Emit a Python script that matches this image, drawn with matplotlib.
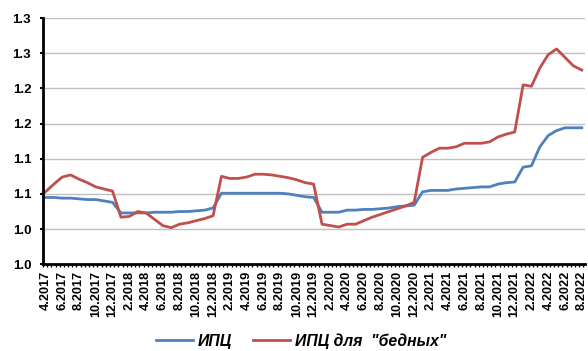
import numpy as np
import matplotlib
matplotlib.use('Agg')
import matplotlib.pyplot as plt

plt.rcParams['font.family'] = ['Liberation Sans', 'DejaVu Sans']

# monthly series, 4.2017 .. 8.2022
months = ['%d.%d' % (m, y) for y in range(2017, 2023) for m in range(1, 13)]
months = months[3:3 + 65]

cpi = [1.045, 1.045, 1.044, 1.044, 1.043, 1.042, 1.042, 1.040, 1.038,
       1.023, 1.023, 1.023, 1.023, 1.024, 1.024, 1.024, 1.025, 1.025, 1.026, 1.027, 1.030,
       1.051, 1.051, 1.051, 1.051, 1.051, 1.051, 1.051, 1.051, 1.050, 1.048, 1.046, 1.045,
       1.024, 1.024, 1.024, 1.027, 1.027, 1.028, 1.028, 1.029, 1.030, 1.032, 1.033, 1.034,
       1.053, 1.055, 1.055, 1.055, 1.057, 1.058, 1.059, 1.060, 1.060, 1.064, 1.066, 1.067,
       1.088, 1.090, 1.117, 1.133, 1.140, 1.144, 1.144, 1.144]

cpi_poor = [1.053, 1.064, 1.074, 1.077, 1.071, 1.066, 1.060, 1.057, 1.054,
            1.017, 1.018, 1.025, 1.023, 1.014, 1.005, 1.002, 1.007, 1.009, 1.012, 1.015, 1.019,
            1.075, 1.072, 1.072, 1.074, 1.078, 1.078, 1.077, 1.075, 1.073, 1.070, 1.066, 1.064,
            1.007, 1.005, 1.003, 1.007, 1.007, 1.012, 1.017, 1.021, 1.025, 1.029, 1.033, 1.038,
            1.102, 1.109, 1.115, 1.115, 1.117, 1.122, 1.122, 1.122, 1.124, 1.131, 1.135, 1.138,
            1.205, 1.203, 1.229, 1.248, 1.256, 1.244, 1.232, 1.226]

y_ticks = [0.95, 1.00, 1.05, 1.10, 1.15, 1.20, 1.25, 1.30]
y_labels = ['1.0', '1.0', '1.1', '1.1', '1.2', '1.2', '1.3', '1.3']

fig = plt.figure(figsize=(5.88, 3.51), dpi=100)
ax = fig.add_axes([0.0731, 0.247, 0.922, 0.7017])

x = np.arange(len(months))
ax.plot(x, cpi, color='#4F81BD', lw=2.0, label='ИПЦ', solid_joinstyle='round')
ax.plot(x, cpi_poor, color='#C0504D', lw=2.0, label='ИПЦ для  "бедных"', solid_joinstyle='round')

ax.set_ylim(0.95, 1.30)
ax.set_yticks(y_ticks)
ax.set_yticklabels(y_labels, fontsize=9.5, fontweight='bold')
ax.yaxis.grid(True, color='#C0C0C0', lw=1.0)
ax.set_axisbelow(True)

ax.set_xlim(-0.3, 64.4)
ax.set_xticks(x[::2])
ax.set_xticklabels(months[::2], rotation=90, fontsize=9.2, fontweight='bold')
ax.set_xticks(np.arange(-0.3, 64.5, 0.5), minor=True)
ax.tick_params(axis='x', which='major', length=0, pad=4.5)
ax.tick_params(axis='x', which='minor', length=2.5, width=1, direction='out')
ax.tick_params(axis='y', length=2.5, width=1.5, direction='out', pad=6)

for s in ['top', 'right']:
    ax.spines[s].set_visible(False)
for s in ['left', 'bottom']:
    ax.spines[s].set_linewidth(2)
    ax.spines[s].set_color('black')

fig.legend(loc='center', bbox_to_anchor=(0.512, 0.028), ncol=2, frameon=False,
           prop={'weight': 'bold', 'style': 'italic', 'size': 11.3},
           handlelength=2.4, handletextpad=0.3, columnspacing=1.3)

fig.savefig('out.png', dpi=100)
